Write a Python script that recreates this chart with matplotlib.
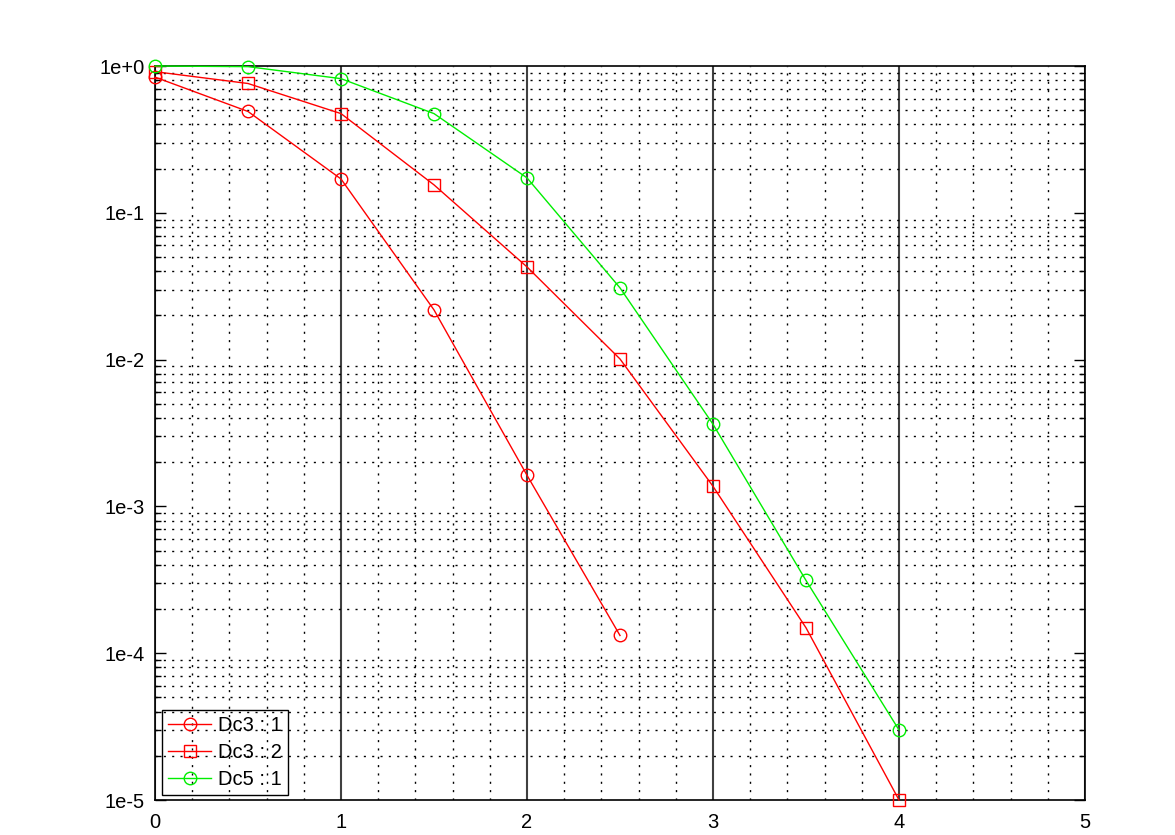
import matplotlib
matplotlib.use("Agg")
import matplotlib.pyplot as plt
from matplotlib.ticker import FixedLocator, NullFormatter
import numpy as np

plt.rcParams['font.family'] = ['Liberation Sans', 'DejaVu Sans']

# Data
x_dc3_1 = [0, 0.5, 1, 1.5, 2, 2.5]
y_dc3_1 = [0.84, 0.49, 0.17, 0.0218, 0.00163, 1.32e-4]

x_dc3_2 = [0, 0.5, 1, 1.5, 2, 2.5, 3, 3.5, 4]
y_dc3_2 = [0.915, 0.76, 0.474, 0.155, 0.0428, 0.0101, 0.00137, 1.49e-4, 1.0e-5]

x_dc5_1 = [0, 0.5, 1, 1.5, 2, 2.5, 3, 3.5, 4]
y_dc5_1 = [1.0, 0.99, 0.82, 0.474, 0.173, 0.0308, 0.00363, 3.13e-4, 3.0e-5]

labels = ["Dc3 : 1", "Dc3 : 2", "Dc5 : 1"]
x_ticks = [0, 1, 2, 3, 4, 5]
x_ticklabels = ["0", "1", "2", "3", "4", "5"]
y_ticks = [1e-5, 1e-4, 1e-3, 1e-2, 1e-1, 1e0]
y_ticklabels = ["1e-5", "1e-4", "1e-3", "1e-2", "1e-1", "1e+0"]

fig = plt.figure(figsize=(11.75, 8.35), dpi=100)
ax = fig.add_axes([155/1175, 35/835, 930/1175, (800-66)/835])

ax.set_yscale('log')
ax.set_xlim(0, 5)
ax.set_ylim(1e-5, 1)

# ticks
ax.xaxis.set_major_locator(FixedLocator(x_ticks))
ax.set_xticklabels(x_ticklabels)
xminor = [v for v in np.round(np.arange(0, 5.0001, 0.2), 3) if abs(v - round(v)) > 1e-6]
ax.xaxis.set_minor_locator(FixedLocator(xminor))
ax.xaxis.set_minor_formatter(NullFormatter())

ax.yaxis.set_major_locator(FixedLocator(y_ticks))
ax.set_yticklabels(y_ticklabels)
yminor = [m * 10.0**e for e in range(-5, 0) for m in range(2, 10)]
ax.yaxis.set_minor_locator(FixedLocator(yminor))
ax.yaxis.set_minor_formatter(NullFormatter())

ax.tick_params(axis='y', which='major', direction='in', length=8, width=1, left=True, right=True, labelsize=14.5, pad=7.5)
ax.tick_params(axis='y', which='minor', direction='in', length=4, width=1, left=True, right=True)
ax.tick_params(axis='x', which='both', length=0, labelsize=14.5, pad=9.5)

# grid
ax.grid(which='major', axis='x', color='#404040', linewidth=1.5, linestyle='-')
ax.grid(which='major', axis='y', visible=False)
ax.grid(which='minor', axis='both', color='black', linewidth=1.0, linestyle=(0, (1.5, 4.5)))
ax.set_axisbelow(True)

for s in ax.spines.values():
    s.set_color('black')
    s.set_linewidth(1.2)

ax.plot(x_dc3_1, y_dc3_1, color='#ff0000', lw=1, marker='o', ms=9, mfc='none', mec='#ff0000', mew=1, label=labels[0], clip_on=False, zorder=3)
ax.plot(x_dc3_2, y_dc3_2, color='#ff0000', lw=1, marker='s', ms=9, mfc='none', mec='#ff0000', mew=1, label=labels[1], clip_on=False, zorder=3)
ax.plot(x_dc5_1, y_dc5_1, color='#00ee00', lw=1, marker='o', ms=9, mfc='none', mec='#00ee00', mew=1, label=labels[2], clip_on=False, zorder=3)

leg = ax.legend(loc='lower left', bbox_to_anchor=(7/930, 5/734), borderaxespad=0,
                fontsize=14.5, fancybox=False, edgecolor='black', facecolor='none',
                framealpha=1, handlelength=2.15, handletextpad=0.35, labelspacing=0.4,
                borderpad=0.3)
leg.get_frame().set_linewidth(1)

fig.savefig('out.png', dpi=100)
